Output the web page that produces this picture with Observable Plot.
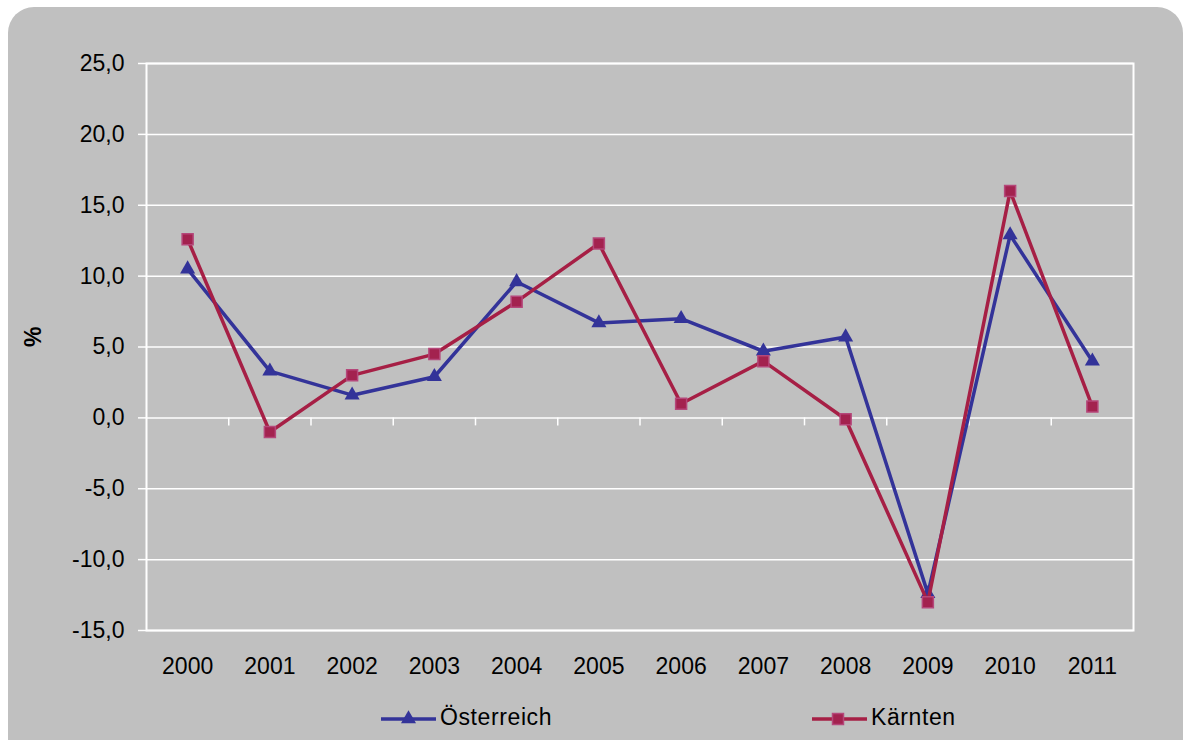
<!DOCTYPE html>
<html><head><meta charset="utf-8">
<script src="https://cdn.jsdelivr.net/npm/d3@7"></script>
<script src="https://cdn.jsdelivr.net/npm/@observablehq/plot@0.6"></script>
<style>
body{margin:0;background:#fff;font-family:"Liberation Sans",Arial,sans-serif;}
#wrap{position:relative;width:1190px;height:740px;overflow:hidden;}
#bg{position:absolute;left:8px;top:7px;width:1175px;height:790px;border-radius:26px;background:#c0c0c0;}
#chart{position:absolute;left:0;top:0;}
#legend{position:absolute;top:703px;left:0;width:1190px;height:28px;font-size:23px;color:#000;}
.item{position:absolute;top:0;display:flex;align-items:center;height:28px;white-space:nowrap;}
.item span{margin-left:4px;letter-spacing:0.6px;}
</style></head><body>
<div id="wrap"><div id="bg"></div><div id="chart"></div><div id="legend"></div></div>
<script>
const years = [2000,2001,2002,2003,2004,2005,2006,2007,2008,2009,2010,2011];
const oesterreich = [10.5,3.3,1.6,2.9,9.6,6.7,7.0,4.7,5.7,-12.4,12.9,4.0];
const kaernten = [12.6,-1.0,3.0,4.5,8.2,12.3,1.0,4.0,-0.1,-13.0,16.0,0.8];
const seriesNames = ["Österreich","Kärnten"];
const yTicks = [-15,-10,-5,0,5,10,15,20,25];

const blue = "#333399";
const red = "#a61f45";
const redFill = "#a3224f";
const redEdge = "#b5477a";

const oe = years.map((y,i)=>({year:y, value:oesterreich[i], series:seriesNames[0]}));
const ka = years.map((y,i)=>({year:y, value:kaernten[i], series:seriesNames[1]}));

const chart = Plot.plot({
  width:1190, height:690,
  marginLeft:146, marginRight:57, marginTop:63, marginBottom:60,
  style:{background:"transparent", fontFamily:'"Liberation Sans", Arial, sans-serif', fontSize:"23px", color:"#000", overflow:"visible"},
  x:{domain:[years[0]-0.5, years[years.length-1]+0.5]},
  y:{domain:[yTicks[0], yTicks[yTicks.length-1]]},
  marks:[
    Plot.gridY(yTicks,{stroke:"#fff", strokeOpacity:1, strokeWidth:1.5}),
    Plot.frame({stroke:"#fff", strokeWidth:2}),
    Plot.axisY(yTicks,{tickSize:8, tickPadding:14, stroke:"#fff", strokeWidth:1.5, tickFormat:d=>d.toFixed(1).replace(".",","), label:null, fontSize:23}),
    Plot.axisX(years,{tickSize:0, tickPadding:27, tickFormat:d=>String(d), label:null, fontSize:23}),
    Plot.ruleX(years.slice(1).map(y=>y-0.5), {y1:0, y2:0, insetBottom:-8, stroke:"#fff", strokeWidth:1.5}),
    Plot.line(oe, {x:"year", y:"value", stroke:blue, strokeWidth:3.5}),
    Plot.dot(oe, {x:"year", y:"value", symbol:"triangle", r:5.6, fill:blue, stroke:"none"}),
    Plot.line(ka, {x:"year", y:"value", stroke:red, strokeWidth:3.5}),
    Plot.dot(ka, {x:"year", y:"value", symbol:"square", r:6.2, fill:redFill, stroke:redEdge, strokeWidth:1.5}),
    Plot.text(["%"], {text:d=>d, frameAnchor:"left", dx:-113, rotate:-90, fontWeight:"bold", fontSize:23})
  ]
});
document.getElementById("chart").appendChild(chart);

// legend
const legendItems = [
  {name:seriesNames[0], color:blue, symbol:"triangle", left:381},
  {name:seriesNames[1], color:red, symbol:"square", left:812}
];
const leg = d3.select("#legend");
legendItems.forEach(it=>{
  const div = leg.append("div").attr("class","item").style("left", it.left+"px");
  const svg = div.append("svg").attr("width",55).attr("height",20).style("margin-top","4px");
  svg.append("line").attr("x1",0).attr("x2",55).attr("y1",10).attr("y2",10)
    .attr("stroke",it.color).attr("stroke-width",3.5);
  if (it.symbol==="triangle") {
    svg.append("path").attr("transform","translate(27.5,10)")
      .attr("d", d3.symbol(d3.symbolTriangle, Math.PI*5.6*5.6)()).attr("fill",it.color);
  } else {
    svg.append("path").attr("transform","translate(26,10)")
      .attr("d", d3.symbol(d3.symbolSquare, Math.PI*6.2*6.2)()).attr("fill",redFill)
      .attr("stroke",redEdge).attr("stroke-width",1.5);
  }
  div.append("span").text(it.name);
});
</script>
</body></html>
